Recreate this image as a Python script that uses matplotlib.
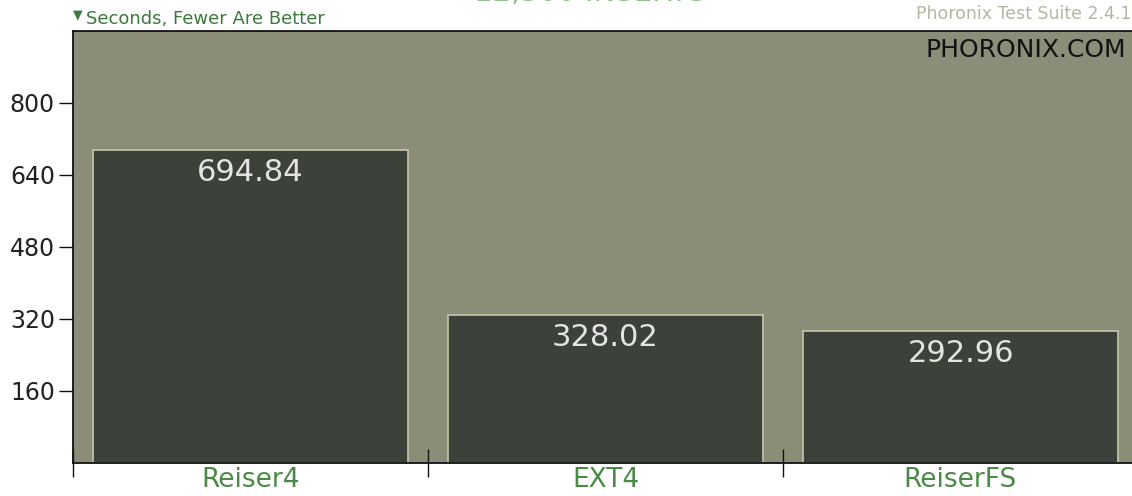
import numpy as np
import matplotlib.pyplot as plt

filesystems = ["Reiser4", "EXT4", "ReiserFS"]
seconds = [694.84, 328.02, 292.96]
yticks = [160, 320, 480, 640, 800]

W, H = 1132, 496
fig = plt.figure(figsize=(W / 100, H / 100), dpi=100)
ax = fig.add_axes([73 / W, (H - 463) / H, 1065 / W, (463 - 31) / H])
ax.set_facecolor("#8b8d79")

x = np.arange(len(filesystems)) + 0.5
ax.bar(x, seconds, width=0.89, color="#3c4239", edgecolor="#c3c8ab", linewidth=1.2)
for xi, v in zip(x, seconds):
    ax.text(xi, v - 18, f"{v:.2f}", ha="center", va="top", color="#e4e4e4", fontsize=22)

ax.set_xlim(0, 3)
ax.set_ylim(0, 960)
ax.set_yticks(yticks)
ax.tick_params(axis="y", length=10, width=1, color="#111111", labelsize=17, labelcolor="#222222", pad=3)
ax.set_xticks([0, 1, 2])
ax.set_xticklabels([])
ax.tick_params(axis="x", direction="inout", length=20, width=1, color="#111111")
ax.set_xticks(x, minor=True)
ax.set_xticklabels(filesystems, minor=True)
ax.tick_params(axis="x", which="minor", length=0, labelsize=19, labelcolor="#4a8a45", pad=3)

ax.spines["right"].set_visible(False)
for side in ["left", "top", "bottom"]:
    ax.spines[side].set_color("#111111")
    ax.spines[side].set_linewidth(1.3)

fig.text(1126 / W, 1 - 50 / H, "PHORONIX.COM", ha="right", va="center",
         fontsize=18, color="#111111")
fig.text(1131 / W, 1 - 14 / H, "Phoronix Test Suite 2.4.1", ha="right", va="center",
         fontsize=12.5, color="#b4b6a4")
fig.text(73 / W, 1 - 15 / H, "▼", ha="left", va="center", fontsize=9, color="#3a7a3a")
fig.text(86 / W, 1 - 19 / H, "Seconds, Fewer Are Better", ha="left", va="center",
         fontsize=13, color="#3a7a3a")
fig.text(590 / W, 1 - 1.5 / H, "12,500 INSERTS", ha="center", va="baseline",
         fontsize=21, color="#8fbf8a")

fig.savefig("out.png", dpi=100)
